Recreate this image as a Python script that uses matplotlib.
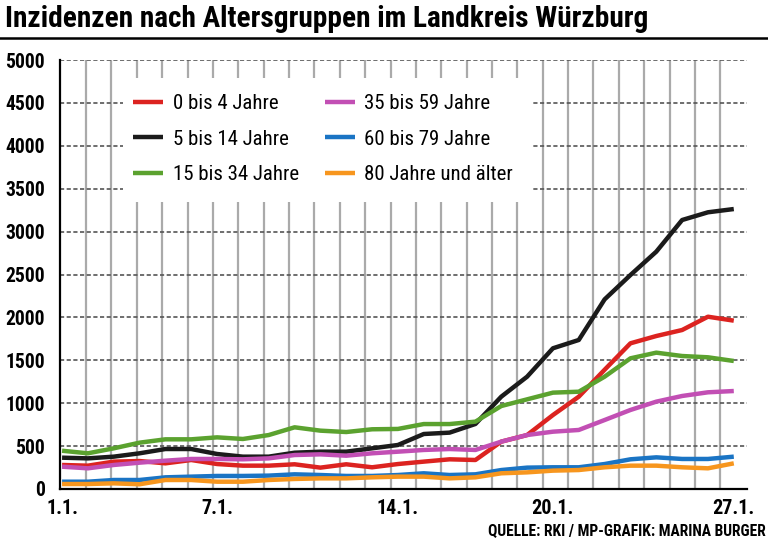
import matplotlib

matplotlib.use("Agg")
import matplotlib.pyplot as plt
from matplotlib import font_manager
from matplotlib.lines import Line2D
from matplotlib.patches import Rectangle

# Inzidenz je Altersgruppe, 1.1. bis 27.1.
days = list(range(1, 28))
tick_days = [1, 7, 14, 20, 27]
tick_labels = ["1.1.", "7.1.", "14.1.", "20.1.", "27.1."]

age_0_4 = [280, 272, 319, 326, 299, 338, 291, 272, 272, 288, 249, 288, 253,
           291, 319, 346, 338, 552, 629, 862, 1076, 1390, 1698, 1783, 1853, 2008, 1962]
age_5_14 = [365, 357, 377, 416, 466, 466, 408, 377, 377, 423, 435, 435, 474,
            513, 641, 657, 758, 1076, 1309, 1640, 1737, 2210, 2494, 2766, 3135, 3225, 3263]
age_15_34 = [446, 416, 474, 540, 579, 579, 602, 583, 629, 719, 680, 664, 696,
             700, 757, 757, 785, 967, 1045, 1123, 1134, 1309, 1523, 1589, 1550, 1535, 1492]
age_35_59 = [260, 241, 280, 307, 330, 350, 350, 346, 357, 396, 404, 388, 416,
             435, 455, 466, 455, 552, 629, 668, 688, 804, 921, 1018, 1084, 1127, 1142]
age_60_79 = [85, 85, 105, 105, 136, 144, 152, 152, 156, 171, 163, 152, 152,
             163, 183, 163, 171, 221, 249, 253, 253, 291, 346, 369, 350, 350, 377]
age_80 = [58, 58, 66, 55, 105, 105, 85, 85, 105, 117, 124, 124, 136,
          144, 144, 124, 136, 183, 194, 214, 221, 253, 272, 272, 253, 241, 299]

# legend fills column by column
series = [
    ("0 bis 4 Jahre", age_0_4, "#dc2320"),
    ("5 bis 14 Jahre", age_5_14, "#1b1b1b"),
    ("15 bis 34 Jahre", age_15_34, "#5ba22f"),
    ("35 bis 59 Jahre", age_35_59, "#c24fb4"),
    ("60 bis 79 Jahre", age_60_79, "#1a74c4"),
    ("80 Jahre und älter", age_80, "#f7961e"),
]

# the original uses a condensed face; take the narrowest one installed
installed = {f.name for f in font_manager.fontManager.ttflist}
narrow = None
for cand in ["Liberation Sans Narrow", "Roboto Condensed", "Open Sans Condensed",
             "DejaVu Sans Condensed", "Liberation Sans", "Roboto"]:
    if cand in installed:
        narrow = cand
        break
FONT = [narrow, "DejaVu Sans"] if narrow else ["DejaVu Sans"]
plt.rcParams["font.family"] = FONT
is_narrow = narrow is not None and ("Narrow" in narrow or "Condensed" in narrow)

fig = plt.figure(figsize=(7.68, 5.41), dpi=100)
ax = fig.add_axes([60 / 768, 52 / 541, 686.7 / 768, 429 / 541])

ax.set_xlim(0.92, 27.5)
ax.set_ylim(0, 5000)

# vertical column lines and dashed value lines, drawn behind everything
for k in range(26):
    ax.axvline(1.93 + k * 0.982, color="#aaaaaa", lw=1.6, zorder=1)
for v in range(500, 5001, 500):
    ax.axhline(v, color="#555555", lw=1.2, ls=(0, (2.5, 1.5)), zorder=1.5)

# white patch behind the legend interrupts the grid
ax.add_patch(Rectangle((0.092, 0.669), 0.594, 0.289, transform=ax.transAxes,
                       facecolor="white", edgecolor="none", zorder=2))

handles = []
for label, values, color in series:
    (h,) = ax.plot(days, values, color=color, lw=3.2, solid_joinstyle="round",
                   solid_capstyle="butt", label=label, zorder=3)
    handles.append(h)

leg_size = 15 if is_narrow else 12.5
leg = ax.legend(handles=handles, ncol=2, loc="upper left",
                bbox_to_anchor=(0.085, 0.955), frameon=False,
                prop={"family": FONT, "size": leg_size}, handlelength=1.45,
                handletextpad=0.45, columnspacing=1.25,
                labelspacing=0.8 if is_narrow else 0.95, borderpad=0.2)
leg.set_zorder(5)

for side in ["top", "right"]:
    ax.spines[side].set_visible(False)
ax.spines["left"].set_linewidth(1.6)
ax.spines["bottom"].set_linewidth(1.6)
ax.spines["left"].set_zorder(4)
ax.spines["bottom"].set_zorder(4)

tick_size = 14.5 if is_narrow else 12.5
ax.set_yticks(range(0, 5001, 500))
ax.set_xticks(tick_days)
ax.set_xticklabels(tick_labels)
ax.tick_params(length=0)
ax.tick_params(axis="y", pad=11)
ax.tick_params(axis="x", pad=7)
for lab in ax.get_yticklabels() + ax.get_xticklabels():
    lab.set_fontweight("bold")
    lab.set_fontsize(tick_size)

title = fig.text(5 / 768, 1 - 27 / 541,
                 "Inzidenzen nach Altersgruppen im Landkreis Würzburg",
                 fontsize=22, fontweight="bold", ha="left", va="baseline")
source = fig.text(766 / 768, 1 - 535 / 541, "QUELLE: RKI / MP-GRAFIK: MARINA BURGER",
                  fontsize=12, fontweight="bold", ha="right", va="baseline")

# shrink title, source line and y labels to the widths they have in the original
renderer = fig.canvas.get_renderer()
for txt, target in [(title, 643), (source, 279)]:
    w = txt.get_window_extent(renderer).width
    if w > target:
        txt.set_fontsize(txt.get_fontsize() * target / w)
ylabs = ax.get_yticklabels()
w = max(lab.get_window_extent(renderer).width for lab in ylabs)
if w > 40:
    for lab in ylabs:
        lab.set_fontsize(lab.get_fontsize() * 40 / w)

fig.add_artist(Line2D([0, 1], [1 - 38 / 541] * 2, color="black", lw=1.8))

fig.savefig("out.png", dpi=100)
